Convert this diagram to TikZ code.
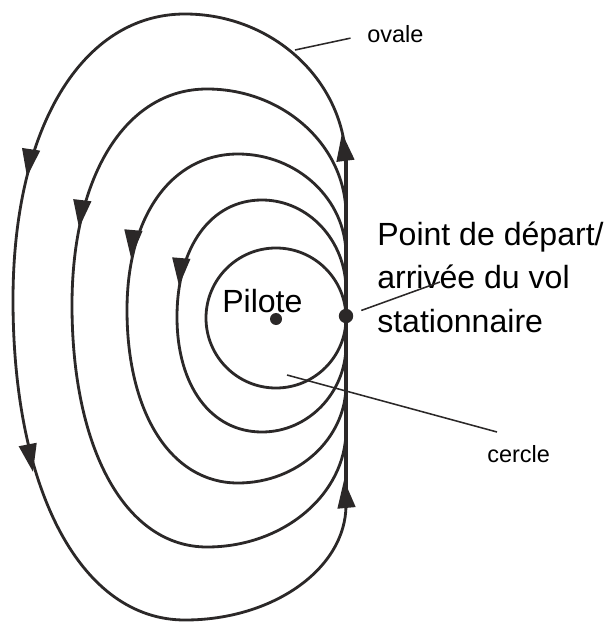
\documentclass[tikz,border=0pt]{standalone}
\usepackage{fontspec}
\setmainfont{Liberation Sans}
\usetikzlibrary{arrows.meta,calc}
\definecolor{Ink}{HTML}{2B2828}

\begin{document}
\begin{tikzpicture}[
  x=0.025cm,y=-0.025cm,
  track/.style={draw=Ink,line width=2pt,line join=round},
  flow/.style={draw=Ink,line width=2pt,-{Triangle[length=0.7cm,width=0.44cm]}},
  leader/.style={draw=Ink,line width=1.1pt},
  dot/.style={circle,fill=Ink,inner sep=0pt,minimum size=0.36cm},
  big/.style={font=\fontsize{22.8}{30.6}\selectfont,inner sep=0pt},
  small/.style={font=\fontsize{16.7}{20}\selectfont,inner sep=0pt}
]
\useasboundingbox (0,0) rectangle (605,622);
% ovals, all tangent at the start point
\foreach \yt/\yb/\xl/\xc/\ym/\ru/\rd in {14/620/13/185/300/165/505,89/547/72/207/305/215/430,154/483/127/238/310/255/385,200/432/177/262/317/290/345}{
  \draw[track] (346,317) -- (346,\ru)
    .. controls (346,{\ru-0.55*(\ru-\yt)}) and ({\xc+0.55*(346-\xc)},\yt) .. (\xc,\yt)
    .. controls ({\xc-0.6*(\xc-\xl)},\yt) and (\xl,{\ym-0.6*(\ym-\yt)}) .. (\xl,\ym)
    .. controls (\xl,{\ym+0.6*(\yb-\ym)}) and ({\xc-0.6*(\xc-\xl)},\yb) .. (\xc,\yb)
    .. controls ({\xc+0.55*(346-\xc)},\yb) and (346,{\rd+0.55*(\yb-\rd)}) .. (346,\rd) -- cycle;
}
\draw[track] (276,318) circle[radius=70];
\draw[track,line width=2.8pt] (346,160) -- (346,507);
% direction of flight
\foreach \xa/\ya/\xb/\yb in {31/150/27/177,28/446/33/472,345/157/342/133,346/502/344/480,82/203/79/228,133/235/131/258,181/262/179/286}{
  \draw[flow] (\xa,\ya) -- (\xb,\yb);
}
\node[dot] (depart) at (346,316) {};
\node[dot,minimum size=0.3cm] (pilote) at (276,319) {};
\node[big,anchor=base west] (pilotelbl) at (222,312) {Pilote};
\node[big,anchor=base west,align=left] (departlbl) at (377,332) {Point de départ/\\arrivée du vol\\stationnaire};
\node[small,anchor=base west] (ovale) at (367,43) {ovale};
\node[small,anchor=base west] (cercle) at (487,462) {cercle};
\coordinate (ovalept) at (295,50);
\coordinate (departend) at (440,282);
\coordinate (cerclept) at (287,375);
\coordinate (cercleend) at (497,432);
\draw[leader,shorten >=0.42cm] (ovalept) -- (ovale.west);
\draw[leader,shorten <=0.22cm] (depart) -- (departend);
\draw[leader] (cerclept) -- (cercleend);
\end{tikzpicture}
\end{document}
